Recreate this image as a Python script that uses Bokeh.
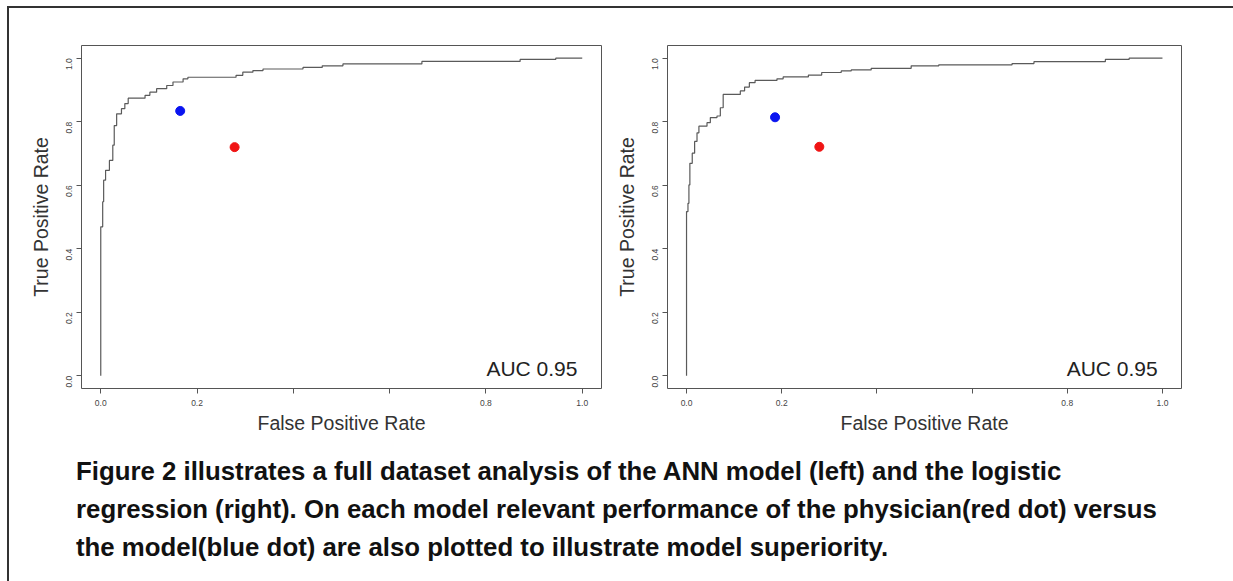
import math
from bokeh.plotting import figure
from bokeh.models import Range1d, FixedTicker, Label, Div, NumeralTickFormatter
from bokeh.layouts import row, column
from bokeh.embed import file_html
from bokeh.resources import INLINE

# ---------------- data ----------------
# ANN model ROC curve (step corners: fpr where TPR jumps, TPR after jump)
ann_fpr = [0.0, 0.0, 0.004, 0.006, 0.010, 0.018, 0.025, 0.028, 0.033, 0.043, 0.050,
           0.057, 0.092, 0.102, 0.116, 0.137, 0.150, 0.171, 0.181, 0.281, 0.295,
           0.316, 0.337, 0.420, 0.460, 0.503, 0.667, 0.871, 0.945, 1.0]
ann_tpr = [0.0, 0.469, 0.548, 0.616, 0.647, 0.678, 0.726, 0.788, 0.825, 0.841, 0.857,
           0.874, 0.883, 0.893, 0.904, 0.914, 0.925, 0.935, 0.940, 0.946, 0.956,
           0.961, 0.966, 0.971, 0.976, 0.982, 0.990, 0.996, 1.0, 1.0]
# Logistic regression ROC curve
lr_fpr = [0.0, 0.0, 0.003, 0.005, 0.007, 0.012, 0.017, 0.022, 0.026, 0.043, 0.050,
          0.064, 0.071, 0.077, 0.113, 0.122, 0.132, 0.144, 0.190, 0.203, 0.256,
          0.284, 0.325, 0.346, 0.388, 0.472, 0.530, 0.684, 0.730, 0.880, 0.930, 1.0]
lr_tpr = [0.0, 0.517, 0.543, 0.601, 0.669, 0.701, 0.738, 0.765, 0.786, 0.797, 0.813,
          0.818, 0.844, 0.886, 0.897, 0.909, 0.923, 0.930, 0.935, 0.941, 0.947,
          0.955, 0.960, 0.963, 0.968, 0.976, 0.979, 0.983, 0.989, 0.996, 1.0, 1.0]

# model (blue) and physician (red) operating points
ann_model_pt = (0.165, 0.834)
ann_phys_pt = (0.278, 0.720)
lr_model_pt = (0.186, 0.814)
lr_phys_pt = (0.279, 0.721)

auc_labels = ["AUC 0.95", "AUC 0.95"]
x_ticks = [0.0, 0.2, 0.4, 0.6, 0.8, 1.0]
x_tick_labels = {0.0: "0.0", 0.2: "0.2", 0.4: "", 0.6: "", 0.8: "0.8", 1.0: "1.0"}
y_ticks = [0.0, 0.2, 0.4, 0.6, 0.8, 1.0]
x_label = "False Positive Rate"
y_label = "True Positive Rate"
caption_lines = [
    "Figure 2 illustrates a full dataset analysis of the ANN model (left) and the logistic",
    "regression (right). On each model relevant performance of the physician(red dot) versus",
    "the model(blue dot) are also plotted to illustrate model superiority.",
]

FONT = "Liberation Sans"
GRAY = "#555555"


def make_plot(fpr, tpr, model_pt, phys_pt, auc, left, fw, right):
    p = figure(frame_width=fw, frame_height=343,
               min_border_left=left, min_border_right=right,
               min_border_top=37, min_border_bottom=50,
               x_range=Range1d(-0.04, 1.04), y_range=Range1d(-0.04, 1.04),
               output_backend="svg", toolbar_location=None)
    p.grid.visible = False
    p.background_fill_color = "white"
    p.border_fill_color = "white"
    p.outline_line_color = GRAY
    p.outline_line_width = 1

    p.step(fpr, tpr, mode="after", line_color="#5a5a5a", line_width=1.2)
    p.scatter([model_pt[0]], [model_pt[1]], size=9, fill_color="#0a14f0", line_color="#0a14f0")
    p.scatter([phys_pt[0]], [phys_pt[1]], size=9, fill_color="#f01414", line_color="#f01414")

    p.add_layout(Label(x=0.99, y=0.023, text=auc, text_align="right",
                       text_baseline="alphabetic", text_font=FONT,
                       text_font_size="21px", text_color="#222222"))

    for ax in (p.xaxis[0], p.yaxis[0]):
        ax.axis_line_color = None
        ax.major_tick_line_color = GRAY
        ax.major_tick_out = 5
        ax.major_tick_in = 0
        ax.minor_tick_line_color = None
        ax.major_label_text_font = FONT
        ax.major_label_text_font_size = "8.5px"
        ax.major_label_text_color = "#444444"
        ax.axis_label_text_font = FONT
        ax.axis_label_text_font_size = "19.5px"
        ax.axis_label_text_font_style = "normal"
        ax.axis_label_text_color = "#333333"

    p.xaxis.ticker = FixedTicker(ticks=x_ticks)
    p.xaxis.major_label_overrides = x_tick_labels
    p.xaxis.major_label_standoff = 6
    p.xaxis.axis_label = x_label
    p.xaxis.axis_label_standoff = 3

    p.yaxis.ticker = FixedTicker(ticks=y_ticks)
    p.yaxis.formatter = NumeralTickFormatter(format="0.0")
    p.yaxis.major_label_orientation = math.pi / 2
    p.yaxis.major_label_standoff = 7
    p.yaxis.axis_label = y_label
    p.yaxis.axis_label_standoff = 9
    return p


p1 = make_plot(ann_fpr, ann_tpr, ann_model_pt, ann_phys_pt, auc_labels[0], 72, 520, 8)
p2 = make_plot(lr_fpr, lr_tpr, lr_model_pt, lr_phys_pt, auc_labels[1], 58, 514, 53)

caption_html = (
    '<div style="font-family: \'Liberation Sans\', Arial, sans-serif; font-weight: bold; '
    'font-size: 25.8px; line-height: 38px; color: #111; white-space: nowrap; '
    'padding-left: 62px; padding-top: 9px;">'
    + "<br>".join(caption_lines) + "</div>"
)
caption = Div(text=caption_html, width=1200, height=138)

layout = column(row(p1, p2), caption,
                styles={"border-top": "2px solid #333333", "border-left": "2px solid #333333",
                        "background-color": "white", "margin-top": "6px", "margin-left": "7px"})

open("out.html", "w").write(file_html(layout, INLINE))
